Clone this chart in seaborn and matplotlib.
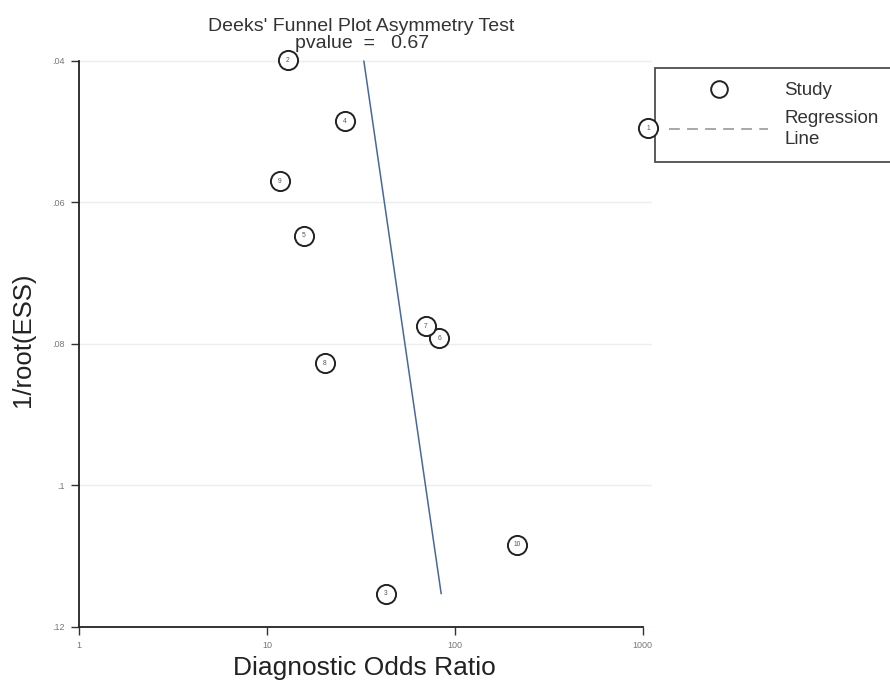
import numpy as np
import pandas as pd
import matplotlib
matplotlib.use("Agg")
import matplotlib.pyplot as plt
from matplotlib.lines import Line2D
import seaborn as sns

study_ids = ["1", "2", "3", "4", "5", "6", "7", "8", "9", "10"]
dor = [1065, 12.9, 43, 26, 15.7, 82.6, 70, 20.3, 11.7, 215]
inv_root_ess = [0.0495, 0.0399, 0.1153, 0.0485, 0.0647, 0.0792, 0.0775, 0.0827, 0.057, 0.1084]
reg_x = [32.8, 84.6]
reg_y = [0.0400, 0.1153]
y_ticks = [0.04, 0.06, 0.08, 0.10, 0.12]
y_ticklabels = [".04", ".06", ".08", ".1", ".12"]
x_ticks = [1, 10, 100, 1000]
x_ticklabels = ["1", "10", "100", "1000"]
title_line1 = "Deeks' Funnel Plot Asymmetry Test"
title_line2 = "pvalue  =   0.67"

df = pd.DataFrame({"study": study_ids, "dor": dor, "y": inv_root_ess})
reg = pd.DataFrame({"x": reg_x, "y": reg_y})

sns.set_theme(style="white")
plt.rcParams['font.family'] = ['Liberation Sans', 'DejaVu Sans']

W, H = 890, 681
fig = plt.figure(figsize=(8.9, 6.81), dpi=100)
ax = fig.add_axes([79/W, 1-627/H, (652-79)/W, (627-55.3)/H])
ax.patch.set_alpha(0)

ax.set_xscale("log")
for t in y_ticks:
    ax.axhline(t, color="#ededed", lw=1, zorder=0)

sns.lineplot(data=reg, x="x", y="y", ax=ax, color="#46699c", lw=1.1, legend=False, sort=False, zorder=2)
sns.scatterplot(data=df, x="dor", y="y", ax=ax, s=190, marker="o", facecolor="white",
                edgecolor="#222222", linewidth=1.4, legend=False, zorder=3)
ax.collections[-1].set_clip_on(False)
for _, r in df.iterrows():
    ax.text(r["dor"], r["y"], r["study"], ha="center", va="center", fontsize=4.8,
            color="#555555", zorder=4, clip_on=False)

ax.set_xlim(1, 1120)
ax.set_ylim(0.12, 0.0392)
ax.set_yticks(y_ticks)
ax.set_yticklabels(y_ticklabels)
ax.set_xticks(x_ticks)
ax.set_xticklabels(x_ticklabels)
ax.minorticks_off()
ax.tick_params(axis="both", which="major", length=6, width=1, color="#333333",
               labelsize=6.5, labelcolor="#777777", left=True, bottom=True, direction="out", pad=4)
for s in ["top", "right"]:
    ax.spines[s].set_visible(False)
ax.spines["left"].set_bounds(0.04, 0.12)
ax.spines["bottom"].set_bounds(1, 1000)
for s in ["left", "bottom"]:
    ax.spines[s].set_color("#222222")
    ax.spines[s].set_linewidth(1.3)

ax.set_xlabel("")
ax.set_ylabel("")
fig.text(364/W, 1-675/H, "Diagnostic Odds Ratio", ha="center", va="baseline",
         fontsize=19, color="#222222")
fig.text(23/W, 1-340/H, "1/root(ESS)", ha="center", va="center", rotation=90,
         fontsize=18.5, color="#222222")
fig.text(361/W, 1-31/H, title_line1, ha="center", va="baseline", fontsize=14, color="#333333")
fig.text(362/W, 1-48/H, title_line2, ha="center", va="baseline", fontsize=14, color="#333333")

handles = [Line2D([], [], marker="o", ls="none", markerfacecolor="white", markeredgecolor="#222222",
                  markersize=12, markeredgewidth=1.4),
           Line2D([], [], ls=(0, (6, 4)), color="#a0a0a0", lw=1.3)]
leg = fig.legend(handles, ["Study", "Regression\nLine"], loc="upper left",
                 bbox_to_anchor=(655/W, 1-68/H), frameon=True, fancybox=False,
                 fontsize=13.5, handlelength=5.3, borderpad=0.75, labelspacing=0.6,
                 handletextpad=0.85, borderaxespad=0)
for t in leg.get_texts():
    t.set_linespacing(1.25)
    t.set_color("#333333")
leg.get_frame().set_edgecolor("#222222")
leg.get_frame().set_linewidth(1.3)
leg.set_zorder(-1)

fig.savefig("out.png", dpi=100)
